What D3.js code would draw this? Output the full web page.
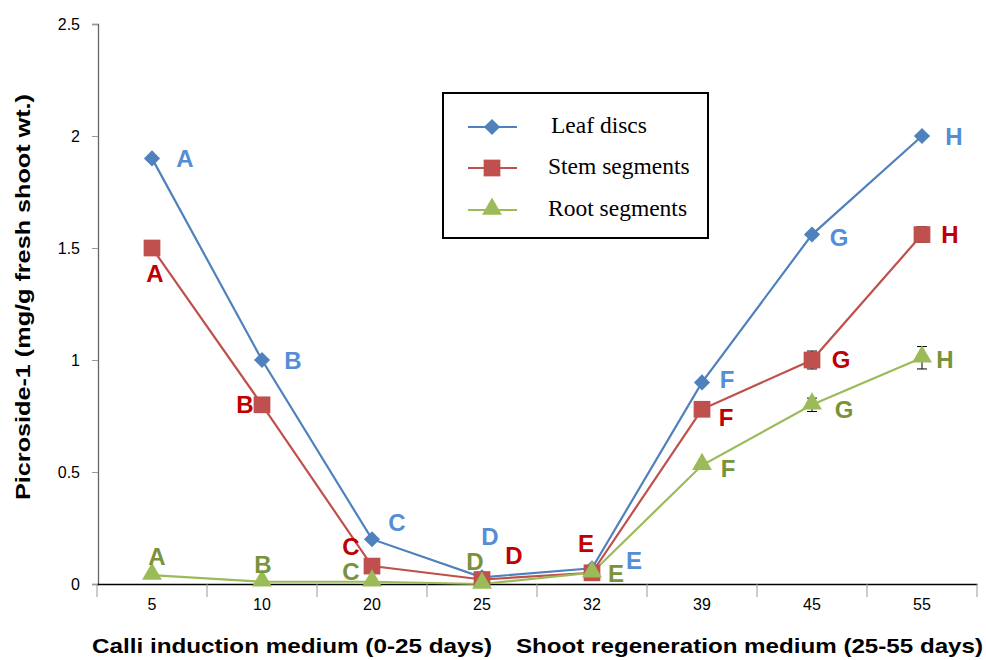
<!DOCTYPE html>
<html>
<head>
<meta charset="utf-8">
<script src="https://cdn.jsdelivr.net/npm/d3@7"></script>
<style>
  body { margin: 0; background: #fff; }
  svg { display: block; }
</style>
</head>
<body>
<div id="chart"></div>
<script>
// data
const days = ['5', '10', '20', '25', '32', '39', '45', '55'];
const leafValues = [1.9, 1.0, 0.2, 0.03, 0.07, 0.9, 1.56, 2.0];
const stemValues = [1.5, 0.8, 0.08, 0.02, 0.05, 0.78, 1.0, 1.56];
const rootValues = [0.04, 0.01, 0.01, 0.0, 0.05, 0.53, 0.8, 1.01];
const leafErrors = [0, 0, 0, 0, 0, 0, 0, 0];
const stemErrors = [0, 0.03, 0, 0, 0, 0, 0.04, 0.035];
const rootErrors = [0, 0, 0, 0, 0, 0, 0.03, 0.05];
const leafLetters = ['A', 'B', 'C', 'D', 'E', 'F', 'G', 'H'];
const stemLetters = ['A', 'B', 'C', 'D', 'E', 'F', 'G', 'H'];
const rootLetters = ['A', 'B', 'C', 'D', 'E', 'F', 'G', 'H'];
const yTicks = [0, 0.5, 1, 1.5, 2, 2.5];

// where each letter sits relative to its point (layout only)
const leafOffsets = [[33, 0], [31, 0], [25, -17], [8, -41], [42, -8], [25, -3], [27, 3], [32, 0]];
const stemOffsets = [[3, 25], [-17, 0], [-21, -20], [32, -24], [-6, -29], [24, 8], [29, -1], [28, 0]];
const rootOffsets = [[5, -19], [1, -17], [-21, -10], [-7, -23], [24, 1], [26, 3], [32, 5], [23, 2]];

const series = [
    { name: 'Leaf discs', values: leafValues, errors: leafErrors, letters: leafLetters, offsets: leafOffsets,
      color: '#4F81BD', labelColor: '#558ED5', symbol: d3.symbolSquare, size: 130, rotate: 45, shift: 0 },
    { name: 'Stem segments', values: stemValues, errors: stemErrors, letters: stemLetters, offsets: stemOffsets,
      color: '#C0504D', labelColor: '#C00000', symbol: d3.symbolSquare, size: 280, rotate: 0, shift: 0 },
    { name: 'Root segments', values: rootValues, errors: rootErrors, letters: rootLetters, offsets: rootOffsets,
      color: '#9BBB59', labelColor: '#77933C', symbol: d3.symbolTriangle, size: 170, rotate: 0, shift: -1 },
];

const W = 986, H = 660;
const svg = d3.select('#chart').append('svg').attr('width', W).attr('height', H);

const x = d3.scaleBand().domain(days).range([97, 977]).padding(0);
const y = d3.scaleLinear().domain([0, 2.5]).range([584, 24]);
const cx = d => x(d) + x.bandwidth() / 2;

// y axis
const yAxis = svg.append('g')
    .attr('transform', 'translate(98,0)')
    .call(d3.axisLeft(y).tickValues(yTicks).tickSize(6).tickPadding(12).tickFormat(d => String(d)));
yAxis.select('.domain').attr('stroke', '#666').attr('stroke-width', 1.3);
yAxis.selectAll('.tick line').attr('stroke', '#999');
yAxis.selectAll('.tick text')
    .attr('font-family', 'Liberation Sans, Arial, sans-serif')
    .attr('font-size', 16).attr('fill', '#000');

// x axis: labels centred in bands, ticks between bands
const xAxis = svg.append('g')
    .attr('transform', 'translate(0,584)')
    .call(d3.axisBottom(x).tickSize(0).tickPadding(15).tickSizeOuter(0));
xAxis.select('.domain').attr('stroke', '#000').attr('stroke-width', 1.3);
xAxis.selectAll('.tick text')
    .attr('font-family', 'Liberation Sans, Arial, sans-serif')
    .attr('font-size', 16).attr('fill', '#000');
xAxis.selectAll('.sep')
    .data(days.map(d => x(d)).concat([x.range()[1]]))
    .enter().append('line')
    .attr('class', 'sep')
    .attr('x1', d => d).attr('x2', d => d)
    .attr('y1', 0).attr('y2', 13)
    .attr('stroke', '#999').attr('stroke-width', 1);

// axis titles
svg.append('text')
    .attr('transform', 'translate(30,297) rotate(-90)')
    .attr('text-anchor', 'middle')
    .attr('font-family', 'Liberation Sans, Arial, sans-serif')
    .attr('font-weight', 'bold').attr('font-size', 21)
    .attr('textLength', 406).attr('lengthAdjust', 'spacingAndGlyphs')
    .text('Picroside-1 (mg/g fresh shoot wt.)');

svg.append('text')
    .attr('x', 92).attr('y', 653)
    .attr('font-family', 'Liberation Sans, Arial, sans-serif')
    .attr('font-weight', 'bold').attr('font-size', 21)
    .attr('textLength', 400).attr('lengthAdjust', 'spacingAndGlyphs')
    .text('Calli induction medium (0-25 days)');

svg.append('text')
    .attr('x', 516).attr('y', 653)
    .attr('font-family', 'Liberation Sans, Arial, sans-serif')
    .attr('font-weight', 'bold').attr('font-size', 21)
    .attr('textLength', 467).attr('lengthAdjust', 'spacingAndGlyphs')
    .text('Shoot regeneration medium (25-55 days)');

// lines, error bars, markers
const line = d3.line().x((v, i) => cx(days[i])).y(v => y(v));

series.forEach(s => {
    svg.append('path')
        .datum(s.values)
        .attr('d', line)
        .attr('fill', 'none')
        .attr('stroke', s.color)
        .attr('stroke-width', 2.2);
});

series.forEach(s => {
    const g = svg.append('g');
    s.values.forEach((v, i) => {
        const e = s.errors[i];
        if (!e) return;
        const px = cx(days[i]);
        g.append('line').attr('x1', px).attr('x2', px).attr('y1', y(v + e)).attr('y2', y(v - e))
            .attr('stroke', '#000').attr('stroke-width', 1);
        [v + e, v - e].forEach(t => g.append('line')
            .attr('x1', px - 5).attr('x2', px + 5).attr('y1', y(t)).attr('y2', y(t))
            .attr('stroke', '#000').attr('stroke-width', 1));
    });
});

series.forEach(s => {
    svg.append('g').selectAll('path')
        .data(s.values)
        .enter().append('path')
        .attr('d', d3.symbol().type(s.symbol).size(s.size))
        .attr('transform', (v, i) => `translate(${cx(days[i])},${y(v) + s.shift}) rotate(${s.rotate})`)
        .attr('fill', s.color);
});

// letter labels
series.forEach(s => {
    svg.append('g').selectAll('text')
        .data(s.letters)
        .enter().append('text')
        .attr('x', (l, i) => cx(days[i]) + s.offsets[i][0])
        .attr('y', (l, i) => y(s.values[i]) + s.offsets[i][1])
        .attr('dy', '0.36em')
        .attr('text-anchor', 'middle')
        .attr('font-family', 'Liberation Sans, Arial, sans-serif')
        .attr('font-weight', 'bold')
        .attr('font-size', 24)
        .attr('fill', s.labelColor)
        .text(l => l);
});

// legend
const legend = svg.append('g');
legend.append('rect')
    .attr('x', 443).attr('y', 93).attr('width', 265).attr('height', 145)
    .attr('fill', '#fff').attr('stroke', '#000').attr('stroke-width', 2);
const legendY = [127, 168, 210];
const legendTextX = [551, 548, 548];
series.forEach((s, i) => {
    legend.append('line')
        .attr('x1', 468).attr('x2', 517).attr('y1', legendY[i]).attr('y2', legendY[i])
        .attr('stroke', s.color).attr('stroke-width', 2.2);
    legend.append('path')
        .attr('d', d3.symbol().type(s.symbol).size(s.size))
        .attr('transform', `translate(492,${legendY[i] + s.shift}) rotate(${s.rotate})`)
        .attr('fill', s.color);
    legend.append('text')
        .attr('x', legendTextX[i]).attr('y', legendY[i] - 2)
        .attr('dy', '0.35em')
        .attr('font-family', 'Liberation Serif, Times New Roman, serif')
        .attr('font-size', 23.5)
        .attr('fill', '#000')
        .text(s.name);
});
</script>
</body>
</html>
